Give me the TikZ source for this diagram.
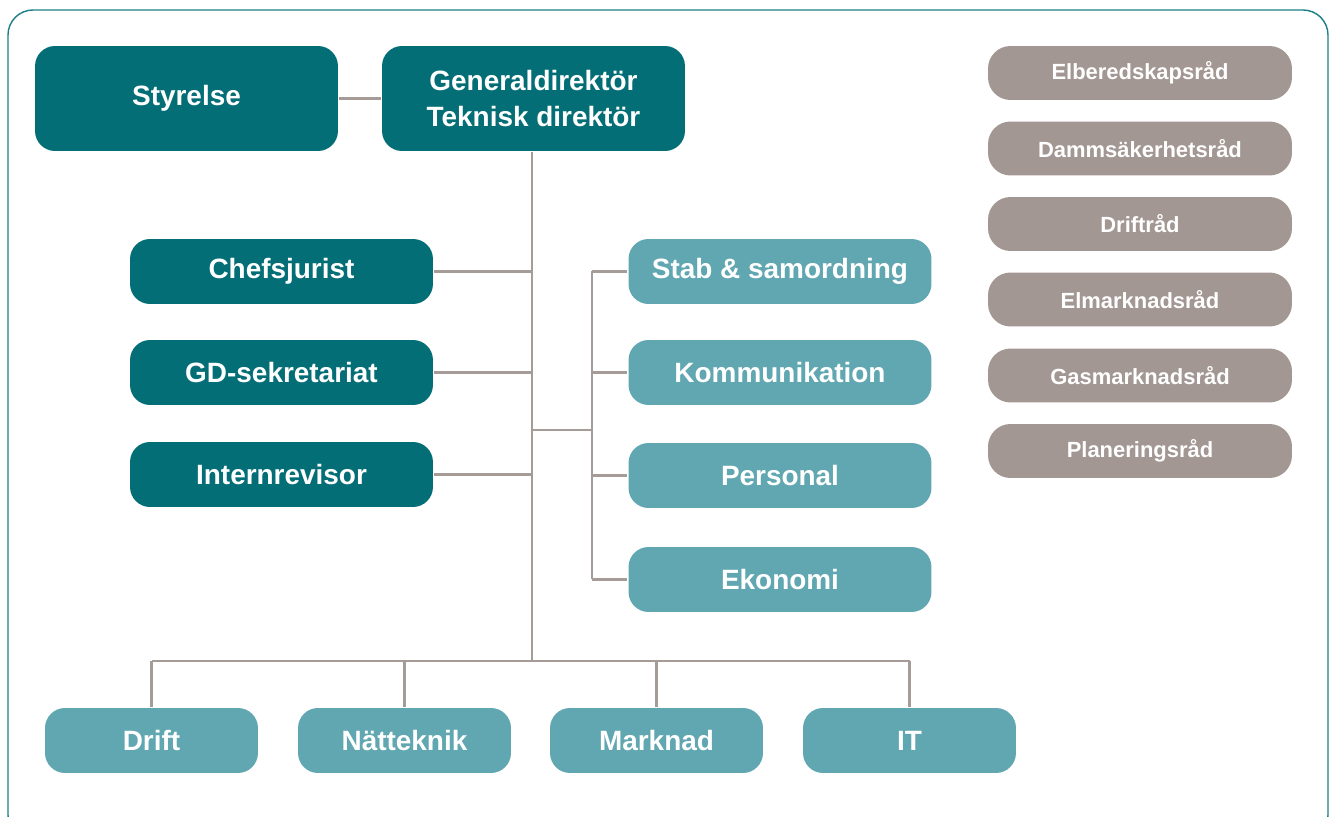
\documentclass[tikz,border=0pt]{standalone}
\usepackage{fontspec}
\setmainfont{Liberation Sans}
\definecolor{darkteal}{HTML}{036E76}
\definecolor{lightteal}{HTML}{60A7B1}
\definecolor{councilgrey}{HTML}{A39793}
\definecolor{linegrey}{HTML}{A59C98}
\definecolor{framecol}{HTML}{1C7F87}
\begin{document}
\begin{tikzpicture}[x=0.02cm, y=-0.02cm, line width=1.7pt,
  box/.style={rectangle, rounded corners=0.4cm, text=white, inner sep=0pt, align=center,
    font=\fontsize{15.9}{20.4}\selectfont\bfseries},
  top node/.style={box, fill=darkteal, minimum width=6.06cm, minimum height=2.1cm},
  staff node/.style={box, fill=darkteal, minimum width=6.06cm, minimum height=1.3cm},
  unit node/.style={box, fill=lightteal, minimum width=6.06cm, minimum height=1.3cm},
  dept node/.style={box, fill=lightteal, minimum width=4.26cm, minimum height=1.3cm},
  council node/.style={box, fill=councilgrey, rounded corners=0.45cm, minimum width=6.08cm, minimum height=1.08cm,
    font=\fontsize{12.5}{15}\selectfont\bfseries},
  link/.style={draw=linegrey}]
\useasboundingbox (0,0) rectangle (1333,817);
\begin{scope}
\clip (0,0) rectangle (1333,817);
\draw[framecol, line width=0.8pt, rounded corners=0.5cm] (8,10) rectangle (1328,840);
\end{scope}
\node[top node] (sty) at (186.5,98.5) {Styrelse};
\node[top node] (gd) at (533.5,98.5) {Generaldirektör\\Teknisk direktör};
\node[staff node] (chef) at (281.5,271.5) {Chefsjurist};
\node[staff node] (sek) at (281.5,372.5) {GD-sekretariat};
\node[staff node] (rev) at (281.5,474.5) {Internrevisor};
\node[unit node] (stab) at (780,271.5) {Stab \& samordning};
\node[unit node] (komm) at (780,372.5) {Kommunikation};
\node[unit node] (pers) at (780,475.5) {Personal};
\node[unit node] (ekon) at (780,579.5) {Ekonomi};
\node[dept node] (drift) at (151.5,740.5) {Drift};
\node[dept node] (natt) at (404.5,740.5) {Nätteknik};
\node[dept node] (mark) at (656.5,740.5) {Marknad};
\node[dept node] (it) at (909.5,740.5) {IT};
\node[council node] (r1) at (1140,73) {Elberedskapsråd};
\node[council node] (r2) at (1140,148.5) {Dammsäkerhetsråd};
\node[council node] (r3) at (1140,224) {Driftråd};
\node[council node] (r4) at (1140,299.5) {Elmarknadsråd};
\node[council node] (r5) at (1140,375.5) {Gasmarknadsråd};
\node[council node] (r6) at (1140,451) {Planeringsråd};
\coordinate (bus) at (532,661);
\coordinate (rj) at (592,430);
\draw[link] (sty) -- (gd);
\draw[link] (gd.south -| bus) -- (bus);
\draw[link] (drift.north |- bus) -- (it.north |- bus);
\foreach \d in {drift,natt,mark,it}
  \draw[link] (\d.north) -- (\d.north |- bus);
\foreach \s in {chef,sek,rev}
  \draw[link] (\s.east) -- (\s.east -| bus);
\draw[link] (rj -| bus) -- (rj);
\draw[link] (rj |- stab.west) -- (rj |- ekon.west);
\foreach \u in {stab,komm,pers,ekon}
  \draw[link] (rj |- \u.west) -- (\u.west);
\end{tikzpicture}
\end{document}
